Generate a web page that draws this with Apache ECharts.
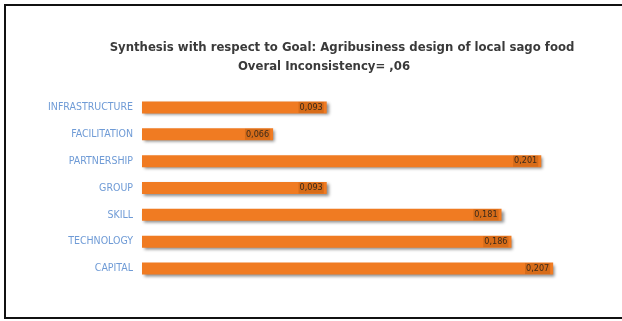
<!DOCTYPE html>
<html>
<head>
    <meta charset="utf-8">
    <script src="https://cdn.jsdelivr.net/npm/echarts@6/dist/echarts.min.js"></script>
</head>
<body style="margin:0;background:#fff;overflow:hidden;">
    <div id="main" style="width:622px;height:321px;"></div>
    <script type="text/javascript">
        var categories = ['INFRASTRUCTURE', 'FACILITATION', 'PARTNERSHIP', 'GROUP', 'SKILL', 'TECHNOLOGY', 'CAPITAL'];
        var weights = [0.093, 0.066, 0.201, 0.093, 0.181, 0.186, 0.207];
        var titleLines = ['Synthesis with respect to Goal: Agribusiness design of local sago food', 'Overal Inconsistency= ,06'];

        var myChart = echarts.init(document.getElementById('main'));

        var titleStyle = {
            fontFamily: 'DejaVu Sans Condensed',
            fontWeight: 'bold',
            fontSize: 13,
            color: '#3a3a3a'
        };

        // frame: open on the right side, like the cropped screenshot
        var frameStyle = { stroke: '#111', lineWidth: 2 };

        var option = {
            backgroundColor: '#fff',
            animation: false,
            graphic: [
                { type: 'polyline', shape: { points: [[640, 5], [5, 5], [5, 318], [640, 318]] }, style: frameStyle, silent: true }
            ],
            title: [
                {
                    text: titleLines[0],
                    left: 337,
                    textAlign: 'center',
                    top: 36,
                    textStyle: titleStyle
                },
                {
                    text: titleLines[1],
                    left: 319,
                    textAlign: 'center',
                    top: 55,
                    textStyle: titleStyle
                }
            ],
            grid: {
                left: 142,
                top: 94,
                width: 437,
                height: 188
            },
            xAxis: {
                type: 'value',
                min: 0,
                max: 0.22,
                show: false
            },
            yAxis: {
                type: 'category',
                data: categories,
                inverse: true,
                axisLine: { show: false },
                axisTick: { show: false },
                axisLabel: {
                    margin: 9,
                    color: '#6f9bd6',
                    fontFamily: 'DejaVu Sans Condensed',
                    fontSize: 10.5
                }
            },
            series: [
                {
                    type: 'bar',
                    data: weights,
                    barWidth: 12,
                    itemStyle: {
                        color: '#f07b22',
                        shadowColor: 'rgba(0,0,0,0.45)',
                        shadowBlur: 3,
                        shadowOffsetX: 2,
                        shadowOffsetY: 2
                    },
                    label: {
                        show: true,
                        position: 'insideRight',
                        distance: 3,
                        color: '#3b2a1a',
                        fontFamily: 'DejaVu Sans Condensed',
                        fontSize: 9,
                        backgroundColor: 'rgba(170,80,10,0.35)',
                        padding: [1, 1],
                        formatter: function (p) {
                            return p.value.toFixed(3).replace('.', ',');
                        }
                    }
                }
            ]
        };
        myChart.setOption(option);
    </script>
</body>
</html>
